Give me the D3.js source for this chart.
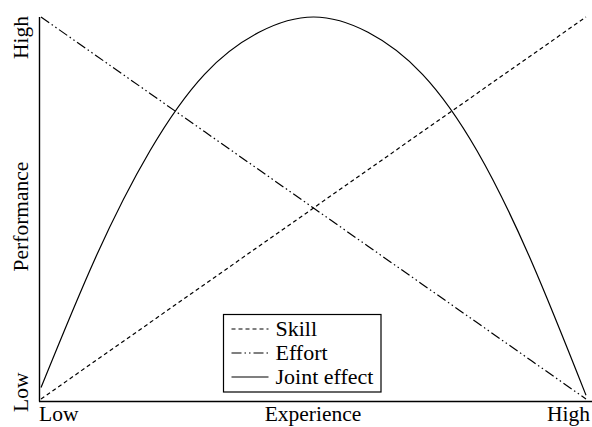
<!DOCTYPE html>
<html>
<head>
<meta charset="utf-8">
<script src="https://cdn.jsdelivr.net/npm/d3@7"></script>
<style>
  body { margin: 0; background: #fff; }
  text { font-family: "Liberation Serif", "Times New Roman", serif; fill: #000; }
</style>
</head>
<body>
<div id="chart"></div>
<script>
const W = 592, H = 427;

// experience (0 = low, 1 = high)
const experience = [0, 0.1, 0.2, 0.3, 0.4, 0.5, 0.6, 0.7, 0.8, 0.9, 1];
const skill = [0, 0.1, 0.2, 0.3, 0.4, 0.5, 0.6, 0.7, 0.8, 0.9, 1];
const effort = [1, 0.9, 0.8, 0.7, 0.6, 0.5, 0.4, 0.3, 0.2, 0.1, 0];
const joint = [0.03, 0.37, 0.65, 0.85, 0.96, 1, 0.96, 0.85, 0.65, 0.36, 0.01];
const seriesNames = ["Skill", "Effort", "Joint effect"];
const tickLabels = ["Low", "High"];

const svg = d3.select("#chart").append("svg")
    .attr("width", W)
    .attr("height", H);

const x = d3.scaleLinear().domain([0, 1]).range([41, 586]);
const y = d3.scaleLinear().domain([0, 1]).range([399, 17]);

const dashes = ["4,3", "10,3,1.5,3,1.5,3", null];
const series = [skill, effort, joint];

// axes (left + bottom only)
svg.append("line")
    .attr("x1", 39.5).attr("x2", 39.5)
    .attr("y1", 17).attr("y2", 401.5)
    .attr("stroke", "#000").attr("stroke-width", 1.4);
svg.append("line")
    .attr("x1", 39).attr("x2", W)
    .attr("y1", 401.5).attr("y2", 401.5)
    .attr("stroke", "#000").attr("stroke-width", 1.4);

const line = d3.line()
    .x((d, i) => x(experience[i]))
    .y(d => y(d));

series.forEach((s, k) => {
  svg.append("path")
      .datum(s)
      .attr("fill", "none")
      .attr("stroke", "#000")
      .attr("stroke-width", 1.2)
      .attr("stroke-dasharray", dashes[k])
      .attr("d", k == 2 ? line.curve(d3.curveNatural)(s) : line.curve(d3.curveLinear)(s));
});

// axis labels
const fs = "21.5px";
svg.append("text")
    .attr("x", 313).attr("y", 421)
    .attr("text-anchor", "middle")
    .style("font-size", fs)
    .text("Experience");
svg.append("text")
    .attr("x", 39).attr("y", 421)
    .attr("text-anchor", "start")
    .style("font-size", fs)
    .text(tickLabels[0]);
svg.append("text")
    .attr("x", 590).attr("y", 421)
    .attr("text-anchor", "end")
    .style("font-size", fs)
    .text(tickLabels[1]);

const ylab = (t, cy, anchor) => svg.append("text")
    .attr("transform", `translate(28,${cy})rotate(-90)`)
    .attr("text-anchor", anchor)
    .style("font-size", fs)
    .text(t);
ylab("Performance", 216.5, "middle");
ylab(tickLabels[0], 412, "start");
ylab(tickLabels[1], 16, "end");

// legend
const lg = svg.append("g").attr("transform", "translate(223.5,314.5)");
lg.append("rect")
    .attr("width", 157.5).attr("height", 77.5)
    .attr("fill", "#fff").attr("stroke", "#000").attr("stroke-width", 1.2);
seriesNames.forEach((n, i) => {
  const cy = 14.5 + i * 24;
  lg.append("line")
      .attr("x1", 8).attr("x2", 45)
      .attr("y1", cy).attr("y2", cy)
      .attr("stroke", "#000").attr("stroke-width", 1.2)
      .attr("stroke-dasharray", dashes[i]);
  lg.append("text")
      .attr("x", 52).attr("y", cy + 6.5)
      .style("font-size", "22px")
      .text(n);
});
</script>
</body>
</html>
